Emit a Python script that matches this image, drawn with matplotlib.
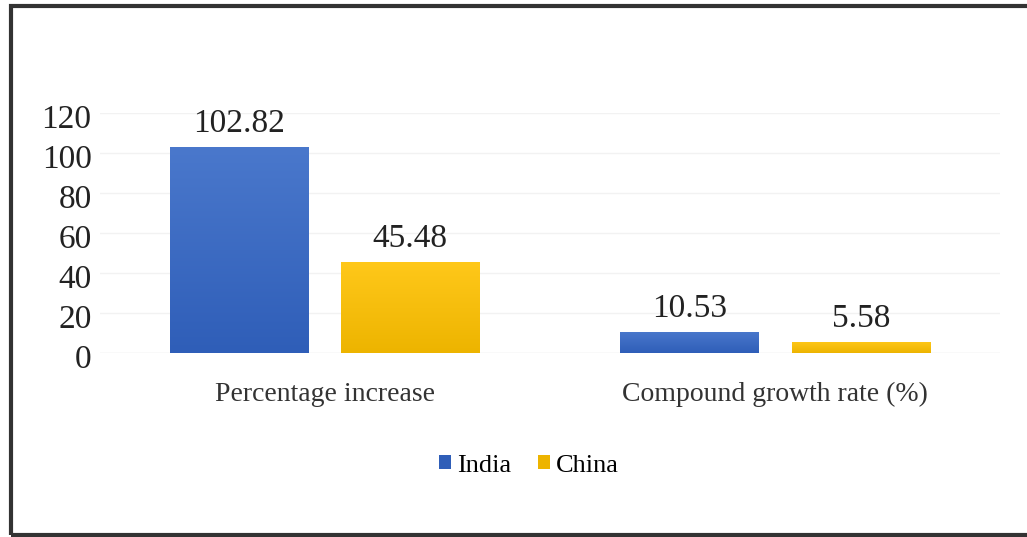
import numpy as np
import matplotlib.pyplot as plt
import matplotlib.transforms as mtransforms
from matplotlib.patches import Rectangle

categories = ["Percentage increase", "Compound growth rate (%)"]
india = [102.82, 10.53]
china = [45.48, 5.58]
series_names = ["India", "China"]
yticks = [0, 20, 40, 60, 80, 100, 120]

plt.rcParams['font.family'] = ['Liberation Serif', 'DejaVu Serif']

fig = plt.figure(figsize=(10.27, 5.37), dpi=100)
ax = fig.add_axes([0.097, 0.3426, 0.877, 0.447])

x = np.arange(len(categories))
w = 0.307
off = 0.19


def gradient_bars(xs, vals, c_top, c_bot, label):
    bars = ax.bar(xs, vals, w, color=c_bot, label=label, zorder=2)
    grad = np.linspace(0, 1, 256).reshape(-1, 1)
    cmap = plt.matplotlib.colors.LinearSegmentedColormap.from_list("g", [c_bot, c_top])
    for b in bars:
        x0, y0 = b.get_x(), b.get_y()
        im = ax.imshow(grad, extent=[x0, x0 + b.get_width(), y0, y0 + b.get_height()],
                       origin="lower", cmap=cmap, aspect="auto", zorder=3)
        im.set_clip_path(b)
    return bars


b1 = gradient_bars(x - off, india, "#4A78CC", "#2F5EB8", series_names[0])
b2 = gradient_bars(x + off, china, "#FFC81A", "#EDB400", series_names[1])

for bars, vals in [(b1, india), (b2, china)]:
    for b, v in zip(bars, vals):
        ax.text(b.get_x() + b.get_width() / 2, v + 4, f"{v:.2f}", ha="center",
                va="bottom", fontsize=24, color="#222222")

ax.set_xlim(-0.5, 1.5)
ax.set_ylim(0, 120)
ax.set_yticks(yticks)
ax.set_yticklabels([])
# y labels sit a little lower than the gridlines in the original
shift = mtransforms.ScaledTranslation(-8 / 100, -7 / 100, fig.dpi_scale_trans)
for t in yticks:
    ax.text(0, t, str(t), transform=ax.get_yaxis_transform() + shift,
            ha="right", va="center", fontsize=24, color="#222222")
ax.set_xticks(x)
ax.set_xticklabels(categories, fontsize=20, color="#333333")
ax.tick_params(length=0, axis="y")
ax.tick_params(length=0, axis="x", pad=21)
ax.grid(axis="y", color="#f2f2f2", lw=1, zorder=0)
for s in ax.spines.values():
    s.set_visible(False)
ax.axhline(0, color="#ececec", lw=1, zorder=1)

leg = fig.legend(handles=[b1, b2], labels=series_names, loc="center",
                 bbox_to_anchor=(0.515, 0.133), ncol=2, frameon=False,
                 fontsize=19, handlelength=0.45, handleheight=0.45,
                 handletextpad=0.25, columnspacing=1.0)

fig.patches.append(Rectangle((0.011, 0.003), 1.05, 0.985, transform=fig.transFigure,
                             fill=False, ec="#333333", lw=3, clip_on=True))

fig.savefig("out.png", dpi=100)
